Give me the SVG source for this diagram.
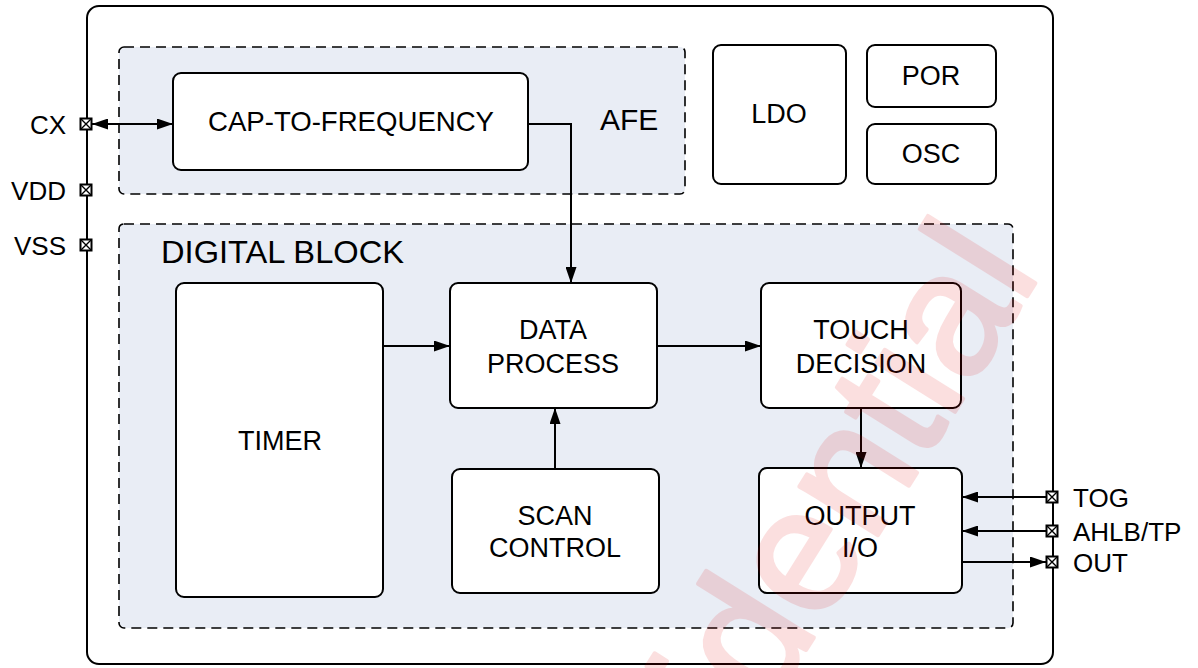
<svg xmlns="http://www.w3.org/2000/svg" width="1198" height="668" viewBox="0 0 1198 668">
<style>
  text { font-family: "Liberation Sans", Arial, sans-serif; fill: #000; }
  .box { fill: #fff; stroke: #000; stroke-width: 2; }
  .region { fill: #e9edf5; stroke: #000; stroke-width: 1.6; stroke-dasharray: 10 6; }
  .lbl { font-size: 27px; text-anchor: middle; }
  .big { font-size: 30px; }
  .pin { font-size: 26px; }
  .wire { fill: none; stroke: #000; stroke-width: 2; }
  .pinbox { fill: #fff; stroke: #000; stroke-width: 2; }
  .pinx { stroke: #000; stroke-width: 1.4; }
  .wm { font-size: 175px; fill: #e00000; stroke: #e00000; stroke-width: 4; stroke-linejoin: round; opacity: 0.12; }
</style>
<defs>
  <marker id="arr" viewBox="0 0 16 11" refX="16" refY="5.5" markerWidth="16" markerHeight="11" markerUnits="userSpaceOnUse" orient="auto">
    <path d="M0,0 L16,5.5 L0,11 Z" fill="#000"/>
  </marker>
  <marker id="arrs" viewBox="0 0 16 11" refX="0" refY="5.5" markerWidth="16" markerHeight="11" markerUnits="userSpaceOnUse" orient="auto">
    <path d="M16,0 L0,5.5 L16,11 Z" fill="#000"/>
  </marker>
  <g id="pinsym">
    <rect class="pinbox" x="-5.5" y="-5.5" width="11" height="11"/>
    <path class="pinx" d="M-5,-5 L5,5 M5,-5 L-5,5"/>
  </g>
</defs>

<rect width="1198" height="668" fill="#fff"/>

<g id="chip">
  <rect x="87" y="6" width="966" height="658" rx="12" fill="#fff" stroke="#000" stroke-width="2"/>
</g>

<g id="afe">
  <rect class="region" x="119" y="47" width="566" height="147" rx="5"/>
  <text class="big" x="600" y="130">AFE</text>
</g>

<g id="digital-block">
  <rect class="region" x="119" y="224" width="894" height="404" rx="5"/>
  <text x="161" y="263" font-size="31" textLength="243" lengthAdjust="spacingAndGlyphs">DIGITAL BLOCK</text>
</g>

<g id="cap-to-frequency">
  <rect class="box" x="173" y="73" width="355" height="97" rx="8"/>
  <text x="351" y="131" font-size="28" text-anchor="middle" textLength="286" lengthAdjust="spacingAndGlyphs">CAP-TO-FREQUENCY</text>
</g>

<g id="ldo">
  <rect class="box" x="713" y="45" width="133" height="139" rx="8"/>
  <text class="lbl" x="779" y="123">LDO</text>
</g>

<g id="por">
  <rect class="box" x="867" y="45" width="129" height="62" rx="8"/>
  <text class="lbl" x="931" y="85">POR</text>
</g>

<g id="osc">
  <rect class="box" x="867" y="124" width="129" height="60" rx="8"/>
  <text class="lbl" x="931" y="163">OSC</text>
</g>

<g id="timer">
  <rect class="box" x="176" y="283" width="207" height="314" rx="8"/>
  <text class="lbl" x="280" y="450">TIMER</text>
</g>

<g id="data-process">
  <rect class="box" x="450" y="283" width="207" height="125" rx="8"/>
  <text class="lbl" x="553" y="339">DATA</text>
  <text class="lbl" x="553" y="373">PROCESS</text>
</g>

<g id="touch-decision">
  <rect class="box" x="761" y="283" width="200" height="125" rx="8"/>
  <text class="lbl" x="861" y="339">TOUCH</text>
  <text class="lbl" x="861" y="373">DECISION</text>
</g>

<g id="scan-control">
  <rect class="box" x="452" y="469" width="207" height="124" rx="8"/>
  <text class="lbl" x="555" y="525">SCAN</text>
  <text class="lbl" x="555" y="557">CONTROL</text>
</g>

<g id="output-io">
  <rect class="box" x="759" y="468" width="203" height="125" rx="8"/>
  <text class="lbl" x="860" y="525">OUTPUT</text>
  <text class="lbl" x="860" y="557">I/O</text>
</g>

<g id="connectors">
  <path class="wire" d="M92,124 L173,124" marker-start="url(#arrs)" marker-end="url(#arr)"/>
  <path class="wire" d="M528,124 L571,124 L571,283" marker-end="url(#arr)"/>
  <path class="wire" d="M383,346 L450,346" marker-end="url(#arr)"/>
  <path class="wire" d="M657,346 L761,346" marker-end="url(#arr)"/>
  <path class="wire" d="M555,469 L555,408" marker-end="url(#arr)"/>
  <path class="wire" d="M861,408 L861,468" marker-end="url(#arr)"/>
  <path class="wire" d="M1046,497 L962,497" marker-end="url(#arr)"/>
  <path class="wire" d="M1046,531 L962,531" marker-end="url(#arr)"/>
  <path class="wire" d="M962,562 L1046,562" marker-end="url(#arr)"/>
</g>

<g id="pin-cx">
  <use href="#pinsym" x="86" y="124"/>
  <text class="pin" x="66" y="134" text-anchor="end">CX</text>
</g>
<g id="pin-vdd">
  <use href="#pinsym" x="86" y="190"/>
  <text class="pin" x="66" y="200" text-anchor="end">VDD</text>
</g>
<g id="pin-vss">
  <use href="#pinsym" x="86" y="245"/>
  <text class="pin" x="66" y="255" text-anchor="end">VSS</text>
</g>
<g id="pin-tog">
  <use href="#pinsym" x="1052" y="497"/>
  <text class="pin" x="1073" y="507">TOG</text>
</g>
<g id="pin-ahlb">
  <use href="#pinsym" x="1052" y="531"/>
  <text class="pin" x="1073" y="541">AHLB/TP</text>
</g>
<g id="pin-out">
  <use href="#pinsym" x="1052" y="562"/>
  <text class="pin" x="1073" y="572">OUT</text>
</g>

<text class="wm" transform="translate(768,711) rotate(-58)" x="-408" y="0">Confidential</text>
</svg>
